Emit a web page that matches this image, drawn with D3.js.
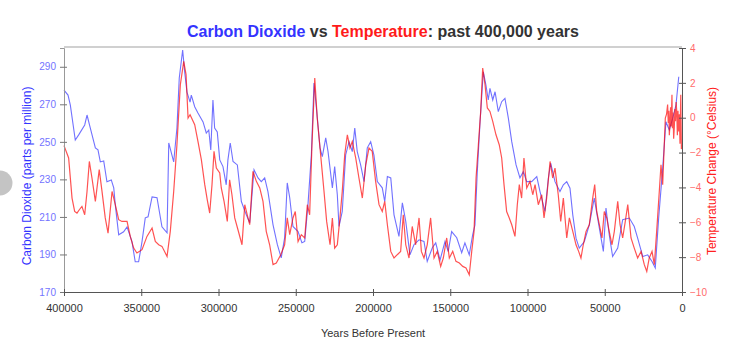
<!DOCTYPE html>
<html><head><meta charset="utf-8">
<script src="https://cdn.jsdelivr.net/npm/d3@7"></script>
<style>body{margin:0;background:#fff;} svg{display:block;font-family:"Liberation Sans",Arial,sans-serif;}</style>
</head><body><svg id="c" width="729" height="345"></svg>
<script>
const co2Data = [[400000,277.6],[397400,274.9],[395900,269.6],[392700,251],[390500,253.7],[386600,259],[385100,264.3],[383000,257.4],[379700,246.8],[378000,245.7],[376500,239.3],[374300,239.8],[372200,228.7],[369400,229.7],[367800,225.5],[366800,216.4],[364600,200.5],[361400,202.1],[359200,204.7],[356000,196.8],[353900,186.1],[351700,186.1],[349500,196.8],[347400,209.5],[345600,210.1],[343000,220.7],[339800,220.2],[336600,204.7],[333300,201.5],[332200,249.4],[329000,239.3],[326900,257.4],[325400,284],[323200,298.9],[321900,287.2],[320400,276.5],[318400,271.2],[317600,274.9],[315400,268.7],[313300,265.4],[310000,260.6],[307900,254.7],[306300,256.3],[305000,245.7],[303600,272.3],[302500,257.4],[300800,255.3],[299200,240.4],[297100,236.8],[295000,227.1],[293900,240.4],[292400,249.4],[290600,239.5],[287800,237.7],[285200,218.2],[282000,211.1],[279800,206.9],[277000,235.1],[274400,230.8],[272300,228.8],[270100,230.8],[268000,223.5],[264700,205.8],[261900,195.2],[259400,188.2],[257200,198.9],[255500,228.1],[253900,220.2],[251800,204.9],[248500,202.2],[246000,196.2],[244200,196.9],[242100,216.4],[239900,243],[238200,281.3],[236400,266.1],[234300,246.8],[232800,242.1],[230600,252.1],[229100,244.8],[226300,225.5],[224800,236.8],[223100,221.8],[222000,204.9],[219900,212.9],[217700,243],[215500,250.1],[213400,244.8],[211800,257.4],[210200,244.8],[208000,237.7],[205800,228.8],[203700,246.8],[201500,250.1],[199400,243],[197200,228.8],[194000,225.5],[192400,218.2],[190700,231.5],[188500,230.8],[186400,211.1],[183200,199.6],[181000,217.5],[178800,207.6],[176100,189.8],[173500,195.2],[170200,197.8],[167000,196.9],[164900,186.3],[161600,193.6],[159400,196.2],[156600,187],[153400,196.9],[151300,191.6],[149100,202.2],[145800,198.9],[142600,190.9],[140500,196.2],[137700,189.8],[135500,200.5],[134000,205.8],[132500,234.1],[130700,260.7],[128600,287.3],[126900,280.3],[125400,272.3],[124300,278.5],[122500,272.3],[121000,276.7],[118900,266.1],[116700,271.4],[114600,273.2],[112400,262.6],[110200,250.1],[107400,237.7],[104900,230.8],[102700,234.1],[100500,228.8],[97300,228.8],[94000,231.5],[91900,223.5],[88700,212.9],[86500,230.6],[85000,238.6],[82200,228.8],[79000,223.5],[76800,227.1],[74600,228.8],[72500,225.3],[70700,211.1],[68600,198.7],[66500,193.4],[63200,196.9],[60000,205.8],[56800,220],[53500,204],[50900,191.6],[49200,214.7],[47100,200.5],[44900,188.9],[41600,193.4],[38400,208.5],[34100,209.4],[30900,204.9],[28700,198.7],[25400,188.9],[22200,189.8],[19400,186.3],[17300,182.8],[15100,209.4],[12500,236],[10400,260.7],[8200,256.3],[6000,262.6],[3900,269.6],[2100,284.7]];

const tempData = [[400000,-1.6],[397000,-2.31],[394800,-4.61],[393100,-5.38],[391600,-5.47],[390100,-5.28],[388400,-5.09],[386600,-5.57],[385100,-4.23],[383600,-2.51],[381900,-3.46],[379700,-4.8],[377200,-2.98],[375400,-4.23],[373300,-5.75],[371500,-6.62],[368900,-4.23],[366800,-4.99],[364600,-5.85],[362500,-5.95],[359200,-5.95],[357100,-6.81],[354900,-7.48],[352800,-7.76],[349500,-7.57],[346300,-6.81],[343000,-6.33],[340900,-7.1],[338700,-7.29],[336600,-7.38],[333300,-7.96],[331200,-6.52],[329000,-4.23],[326900,-1.55],[324700,1.89],[322500,3.23],[321000,2.47],[319700,-0.02],[318400,0.17],[315400,-0.4],[313300,-1.36],[311100,-2.41],[308900,-3.84],[307300,-4.7],[305700,-5.47],[304200,-3.84],[302900,-1.93],[301400,-2.89],[299200,-3.17],[298200,-4.03],[296400,-4.8],[294300,-5.95],[292800,-3.56],[291300,-4.42],[289500,-5.75],[287400,-6.43],[284800,-7.29],[283000,-4.99],[281400,-5.57],[279800,-6.14],[277700,-3.08],[275500,-3.65],[273300,-4.03],[271200,-4.8],[269100,-6.52],[266900,-7.29],[264700,-8.43],[262600,-8.34],[259700,-7.86],[257200,-7.29],[255500,-5.75],[253900,-6.71],[251800,-5.75],[250300,-5.38],[248500,-7.1],[246400,-6.71],[244200,-6.9],[242500,-4.99],[241000,-5.57],[239500,-1.55],[237700,2.28],[236100,-0.02],[233900,-2.12],[231700,-4.23],[230000,-5.95],[227800,-7.29],[226300,-5.75],[224800,-7.48],[223100,-7.29],[221400,-5.75],[219900,-4.23],[218300,-2.12],[216600,-0.98],[214900,-1.74],[213400,-1.36],[211200,-2.31],[209100,-3.46],[206900,-4.61],[204700,-2.7],[202600,-1.74],[200500,-1.93],[198300,-3.65],[196100,-4.99],[194000,-5.38],[192400,-4.8],[190700,-6.14],[188500,-7.67],[186400,-8.05],[184300,-7.86],[182100,-7.67],[180400,-5.57],[178800,-7.29],[176700,-8.05],[174600,-6.24],[172400,-7.29],[170200,-5.75],[168700,-7.67],[167000,-8.05],[164900,-7.29],[162700,-5.75],[160500,-8.05],[158400,-7.67],[156200,-8.53],[154500,-8.05],[152300,-6.9],[150600,-8.05],[148400,-7.67],[146300,-8.24],[144100,-8.34],[141900,-8.53],[139800,-8.62],[137700,-9.01],[136100,-7.67],[134600,-6.52],[133300,-3.46],[131800,-1.55],[130300,0.36],[129000,2.85],[127500,1.89],[126000,0.56],[124300,0.36],[122500,-0.21],[120400,-0.98],[118300,-1.55],[116700,-2.31],[115200,-3.84],[113500,-5.38],[111800,-5.75],[110200,-6.14],[108100,-6.81],[106600,-4.99],[105300,-3.84],[103800,-4.61],[102300,-2.31],[100500,-4.03],[98400,-3.65],[96600,-4.42],[95100,-3.84],[93000,-4.99],[90800,-4.42],[89300,-5.75],[87600,-4.61],[85400,-2.51],[83700,-3.46],[82200,-2.89],[80100,-4.42],[78500,-5.95],[76800,-4.61],[74600,-6.9],[72900,-5.75],[70700,-6.52],[68600,-7.29],[66900,-7.67],[65400,-8.05],[63900,-7.29],[62100,-6.52],[60000,-6.14],[57800,-4.61],[56500,-3.84],[55200,-5.38],[53500,-6.14],[51800,-6.9],[50300,-5.38],[48700,-5.75],[47100,-6.52],[45300,-7.29],[43800,-6.52],[41600,-4.8],[40100,-6.14],[38400,-6.9],[36700,-5.95],[35100,-4.99],[33000,-6.9],[30900,-7.48],[28700,-8.05],[26500,-7.67],[24400,-8.43],[22800,-8.82],[21200,-8.05],[19400,-7.67],[17900,-8.43],[16400,-6.52],[14700,-4.23],[13600,-2.7],[12500,-3.84],[10800,-0.02],[10000,0.2],[9300,0.75],[8900,-0.3],[8500,0.4],[8200,-1.0],[7800,-0.4],[7400,0.6],[7000,-0.5],[6500,1.32],[6200,-0.6],[5800,0.3],[5400,-1.2],[5000,-0.59],[4600,0.5],[4200,-0.2],[3800,0.9],[3400,0.36],[3000,-1.0],[2600,0.4],[2100,-0.79],[1700,0.2],[1300,-1.5],[800,1.32],[400,-1.8],[0,-1.55]];

const yearTicks = [400000,350000,300000,250000,200000,150000,100000,50000,0];
const co2Ticks = [170,190,210,230,250,270,290];
const tempTicks = [-10,-8,-6,-4,-2,0,2,4];

const svg = d3.select('#c');
const L=64, R=682, T=48, B=292;
const x = d3.scaleLinear().domain([400000,0]).range([L,R]);
const yL = d3.scaleLinear().domain([170,300]).range([B,T]);
const yR = d3.scaleLinear().domain([-10,4]).range([B,T]);

svg.append('circle').attr('cx',0).attr('cy',183).attr('r',12.5).attr('fill','#c4c4c4');

svg.append('line').attr('x1',L).attr('x2',R).attr('y1',T-1).attr('y2',T-1).attr('stroke','#d0d0d0').attr('stroke-width',2);

const lineL = d3.line().x(d=>x(d[0])).y(d=>yL(d[1]));
const lineR = d3.line().x(d=>x(d[0])).y(d=>yR(d[1]));
svg.append('path').datum(co2Data).attr('d',lineL).attr('fill','none').attr('stroke','#3535ff').attr('stroke-opacity',0.7).attr('stroke-width',1.1);
svg.append('path').datum(tempData).attr('d',lineR).attr('fill','none').attr('stroke','#ff0000').attr('stroke-opacity',0.68).attr('stroke-width',1.2);

const gL = svg.append('g').attr('transform',`translate(${L},0)`)
  .call(d3.axisLeft(yL).tickValues(co2Ticks).tickSize(4).tickPadding(4).tickFormat(d3.format('d')));
gL.select('.domain').attr('stroke','#999');
gL.selectAll('.tick line').attr('x1',3).attr('stroke','#777');
gL.selectAll('.tick text').attr('fill','#7373ff').attr('font-size',10).attr('font-family','"Liberation Sans",Arial,sans-serif');

const gR = svg.append('g').attr('transform',`translate(${R},0)`)
  .call(d3.axisRight(yR).tickValues(tempTicks).tickSize(4).tickPadding(4).tickFormat(d3.format('d')));
gR.select('.domain').attr('stroke','#555');
gR.selectAll('.tick line').attr('x1',-3).attr('stroke','#555');
gR.selectAll('.tick text').attr('fill','#ff6b6b').attr('font-size',10).attr('font-family','"Liberation Sans",Arial,sans-serif');

const gB = svg.append('g').attr('transform',`translate(0,${B})`)
  .call(d3.axisBottom(x).tickValues(yearTicks).tickSize(4).tickPadding(8).tickFormat(d3.format('d')));
gB.select('.domain').attr('stroke','#555');
gB.selectAll('.tick line').attr('y1',-3).attr('stroke','#555');
gB.selectAll('.tick text').attr('fill','#333').attr('font-size',11).attr('font-family','"Liberation Sans",Arial,sans-serif');

const title = svg.append('text').attr('x',383).attr('y',37).attr('text-anchor','middle')
  .attr('font-size',16).attr('font-weight','bold').attr('fill','#333');
title.append('tspan').attr('fill','#3333ff').text('Carbon Dioxide');
title.append('tspan').text(' vs ');
title.append('tspan').attr('fill','#ff1a1a').text('Temperature');
title.append('tspan').text(': past 400,000 years');

svg.append('text').attr('x',373).attr('y',337).attr('text-anchor','middle')
  .attr('font-size',11).attr('fill','#333').text('Years Before Present');

svg.append('text').attr('transform','translate(31,176) rotate(-90)').attr('text-anchor','middle')
  .attr('font-size',12).attr('fill','#3333ff').text('Carbon Dioxide (parts per million)');

svg.append('text').attr('transform','translate(716,171) rotate(-90)').attr('text-anchor','middle')
  .attr('font-size',12).attr('fill','#ff2020').text('Temperature Change (°Celsius)');
</script></body></html>
